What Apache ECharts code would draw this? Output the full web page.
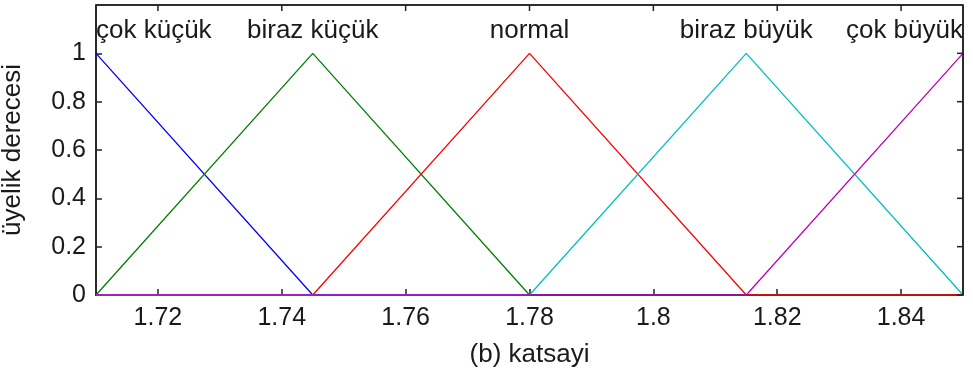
<!DOCTYPE html>
<html>
<head>
<meta charset="utf-8">
<script src="https://cdn.jsdelivr.net/npm/echarts@6/dist/echarts.min.js"></script>
<style>
  html, body { margin: 0; padding: 0; background: #fff; }
  #chart { width: 973px; height: 378px; }
</style>
</head>
<body>
<div id="chart"></div>
<script>
// Triangular membership functions over the "katsayi" universe.
var xMin = 1.71, xMax = 1.85;
var mfNames = ['çok küçük', 'biraz küçük', 'normal', 'biraz büyük', 'çok büyük'];
var mfColors = ['#0000ff', '#008000', '#ff0000', '#00bfbf', '#bf00bf'];
// breakpoints (x) and membership (y) of each function, sampled across the full range
var mfX = [
  [1.71, 1.745, 1.85],
  [1.71, 1.745, 1.78, 1.85],
  [1.71, 1.745, 1.78, 1.815, 1.85],
  [1.71, 1.78, 1.815, 1.85],
  [1.71, 1.815, 1.85]
];
var mfY = [
  [1, 0, 0],
  [0, 1, 0, 0],
  [0, 0, 1, 0, 0],
  [0, 0, 1, 0],
  [0, 0, 1]
];
// where each function's name is written above the plot
var labelX = [1.71, 1.745, 1.78, 1.815, 1.85];
var labelAlign = ['left', 'center', 'center', 'center', 'right'];
var labelY = 1.095;
var xTicks = [1.72, 1.74, 1.76, 1.78, 1.8, 1.82, 1.84];
var xTickLabels = ['1.72', '1.74', '1.76', '1.78', '1.8', '1.82', '1.84'];
var yTicks = [0, 0.2, 0.4, 0.6, 0.8, 1];
var yTickLabels = ['0', '0.2', '0.4', '0.6', '0.8', '1'];
var yMax = 1.2;

var font = 'Liberation Sans, Arial, sans-serif';
var ink = '#1a1a1a';
var frame = '#222';
var tickLen = 6;

function xLabel(v) {
  for (var i = 0; i < xTicks.length; i++) if (Math.abs(xTicks[i] - v) < 1e-6) return xTickLabels[i];
  return '';
}
function yLabel(v) {
  for (var i = 0; i < yTicks.length; i++) if (Math.abs(yTicks[i] - v) < 1e-6) return yTickLabels[i];
  return '';
}
function axisLine() {
  return { show: true, onZero: false, lineStyle: { color: frame, width: 1.6 } };
}
function axisTick(values) {
  return { show: true, inside: true, length: tickLen, customValues: values, lineStyle: { color: frame, width: 1.5 } };
}
var hidden = { show: false };

var series = mfNames.map(function (name, i) {
  return {
    name: name,
    type: 'line',
    data: mfX[i].map(function (x, j) { return [x, mfY[i][j]]; }),
    showSymbol: false,
    symbol: 'none',
    lineStyle: { color: mfColors[i], width: 1.3 },
    z: 2 + i,
    animation: false
  };
});

// function names written above their peaks
series.push({
  type: 'scatter',
  symbolSize: 0,
  silent: true,
  animation: false,
  itemStyle: { opacity: 1 },
  data: mfNames.map(function (name, i) {
    return {
      value: [labelX[i], labelY],
      label: {
        show: true,
        position: 'inside',
        formatter: name,
        align: labelAlign[i],
        verticalAlign: 'middle',
        color: ink,
        fontFamily: font,
        fontSize: 26
      }
    };
  })
});

var option = {
  backgroundColor: '#ffffff',
  animation: false,
  grid: {
    left: 96, right: 10, top: 5, bottom: 83,
    containLabel: false, outerBoundsMode: 'none',
    show: true, borderColor: frame, borderWidth: 1.6, backgroundColor: 'transparent'
  },
  xAxis: {
    type: 'value', min: xMin, max: xMax, position: 'bottom',
    name: '(b) katsayi', nameLocation: 'middle', nameGap: 47,
    nameTextStyle: { color: ink, fontFamily: font, fontSize: 26 },
    axisLine: axisLine(),
    axisTick: axisTick(xTicks),
    axisLabel: { customValues: xTicks, formatter: xLabel, color: ink, fontFamily: font, fontSize: 25, margin: 11 },
    splitLine: hidden
  },
  yAxis: {
    type: 'value', min: 0, max: yMax, position: 'left',
    name: 'üyelik derecesi', nameLocation: 'middle', nameGap: 70, nameRotate: 90,
    nameTextStyle: { color: ink, fontFamily: font, fontSize: 26 },
    axisLine: axisLine(),
    axisTick: axisTick(yTicks),
    axisLabel: { customValues: yTicks, formatter: yLabel, color: ink, fontFamily: font, fontSize: 25, margin: 10 },
    splitLine: hidden
  },
  series: series
};

var chart = echarts.init(document.getElementById('chart'), null, { renderer: 'canvas' });
chart.setOption(option);

// Mirror the frame: top edge and right edge with inward ticks, positioned through the axes' scales.
(function drawMirrorFrame() {
  var tl = chart.convertToPixel({ gridIndex: 0 }, [xMin, yMax]);
  var br = chart.convertToPixel({ gridIndex: 0 }, [xMax, 0]);
  var stroke = { stroke: frame, lineWidth: 1.6 };
  var els = [
    { type: 'line', shape: { x1: tl[0], y1: tl[1], x2: br[0], y2: tl[1] }, style: stroke, z: 50, silent: true },
    { type: 'line', shape: { x1: br[0], y1: tl[1], x2: br[0], y2: br[1] }, style: stroke, z: 50, silent: true }
  ];
  xTicks.forEach(function (v) {
    var px = chart.convertToPixel({ xAxisIndex: 0 }, v);
    els.push({ type: 'line', shape: { x1: px, y1: tl[1], x2: px, y2: tl[1] + tickLen }, style: { stroke: frame, lineWidth: 1.5 }, z: 50, silent: true });
  });
  yTicks.forEach(function (v) {
    var py = chart.convertToPixel({ yAxisIndex: 0 }, v);
    els.push({ type: 'line', shape: { x1: br[0], y1: py, x2: br[0] - tickLen, y2: py }, style: { stroke: frame, lineWidth: 1.5 }, z: 50, silent: true });
  });
  chart.setOption({ graphic: { elements: els } });
})();
</script>
</body>
</html>
